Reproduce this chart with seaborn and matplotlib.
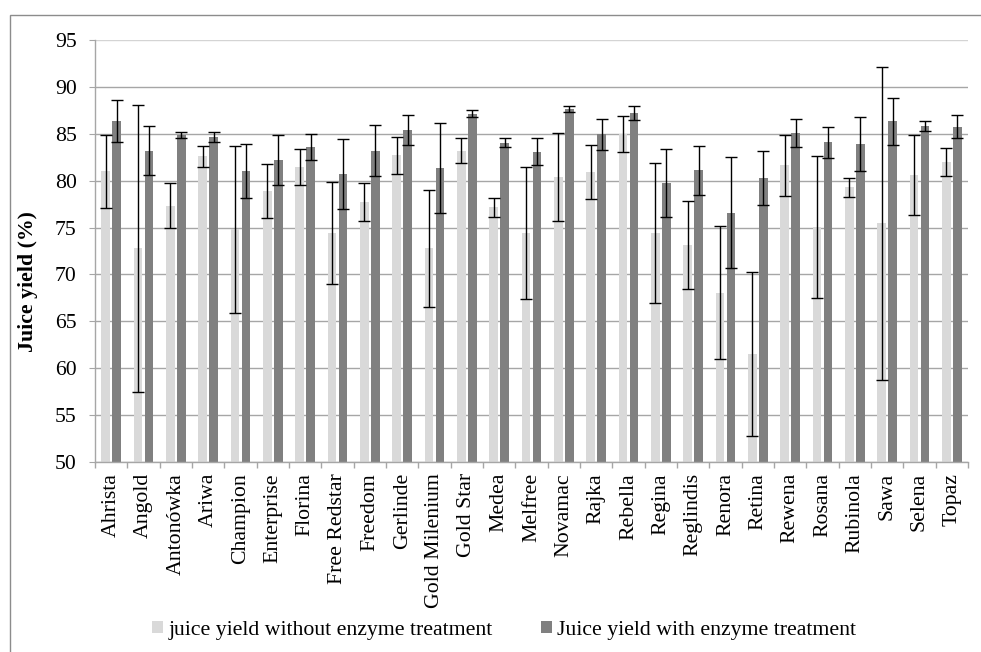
import numpy as np
import pandas as pd
import matplotlib
matplotlib.use("Agg")
import matplotlib.pyplot as plt
import seaborn as sns
from matplotlib.patches import Rectangle

cultivars = ["Ahrista", "Angold", "Antonówka", "Ariwa", "Champion", "Enterprise",
             "Florina", "Free Redstar", "Freedom", "Gerlinde", "Gold Milenium",
             "Gold Star", "Medea", "Melfree", "Novamac", "Rajka", "Rebella",
             "Regina", "Reglindis", "Renora", "Retina", "Rewena", "Rosana",
             "Rubinola", "Sawa", "Selena", "Topaz"]

without_enzyme = [81.0, 72.8, 77.3, 82.6, 74.8, 78.9, 81.45, 74.4, 77.7, 82.7,
                  72.8, 83.2, 77.15, 74.4, 80.35, 80.9, 84.95, 74.4, 73.15, 68.05,
                  61.55, 81.65, 75.05, 79.3, 75.45, 80.6, 82.0]
without_err = [3.9, 15.3, 2.4, 1.15, 8.9, 2.9, 1.9, 5.45, 2.0, 1.95,
               6.25, 1.3, 1.0, 7.05, 4.7, 2.9, 1.9, 7.45, 4.7, 7.1,
               8.75, 3.25, 7.55, 1.0, 16.7, 4.3, 1.5]

with_enzyme = [86.35, 83.2, 84.9, 84.65, 81.0, 82.2, 83.6, 80.7, 83.2, 85.4,
               81.35, 87.15, 84.05, 83.1, 87.65, 84.95, 87.25, 79.75, 81.1, 76.6,
               80.3, 85.05, 84.1, 83.9, 86.35, 85.85, 85.75]
with_err = [2.2, 2.6, 0.3, 0.5, 2.9, 2.7, 1.35, 3.7, 2.7, 1.6,
            4.85, 0.4, 0.5, 1.45, 0.3, 1.65, 0.75, 3.65, 2.65, 5.95,
            2.85, 1.5, 1.65, 2.85, 2.5, 0.55, 1.25]

series = ["juice yield without enzyme treatment", "Juice yield with enzyme treatment"]
y_ticks = [50, 55, 60, 65, 70, 75, 80, 85, 90, 95]

FONT = ["Liberation Serif", "DejaVu Serif"]
FS = 15.7
GRID = "#a6a6a6"

plt.rcParams["font.family"] = FONT

df = pd.DataFrame({
    "cultivar": cultivars * 2,
    "value": without_enzyme + with_enzyme,
    "series": [series[0]] * len(cultivars) + [series[1]] * len(cultivars),
})
errors = [without_err, with_err]

fig = plt.figure(figsize=(9.81, 6.52), dpi=100)
ax = fig.add_axes([95 / 981, 1 - 462 / 652, 873 / 981, 422 / 652])

sns.barplot(data=df, x="cultivar", y="value", hue="series",
            palette=["#d9d9d9", "#808080"], saturation=1,
            width=0.68, gap=0.2, errorbar=None, ax=ax, zorder=2)

# error bars on top of each bar
for container, err in zip(ax.containers, errors):
    xs = [p.get_x() + p.get_width() / 2 for p in container.patches]
    hs = [p.get_height() for p in container.patches]
    ax.errorbar(xs, hs, yerr=err, fmt="none", ecolor="black",
                elinewidth=1.0, capsize=4.2, capthick=1.0, zorder=3)

ax.set_ylim(50, 95)
ax.set_xlim(-0.5, len(cultivars) - 0.5)
ax.set_yticks(y_ticks)
ax.set_yticklabels([str(t) for t in y_ticks], fontsize=FS)
ax.set_xticks(range(len(cultivars)))
ax.set_xticklabels(cultivars, rotation=90, fontsize=FS)
ax.set_xticks(np.arange(-0.5, len(cultivars), 1), minor=True)
ax.set_xlabel("")
ax.set_ylabel("")

ax.grid(axis="y", color=GRID, linewidth=1.0, zorder=0)
ax.set_axisbelow(True)
ax.get_ygridlines()[-1].set_color("#d4d4d4")

for s in ["top", "right"]:
    ax.spines[s].set_visible(False)
for s in ["left", "bottom"]:
    ax.spines[s].set_color(GRID)
    ax.spines[s].set_linewidth(1.0)

ax.tick_params(axis="y", length=4.3, color=GRID, pad=9, labelcolor="black")
ax.tick_params(axis="x", which="major", length=0, pad=8)
ax.tick_params(axis="x", which="minor", length=4.3, color=GRID, width=1.0)

fig.text(28 / 981, 1 - 282 / 652, "Juice yield (%)", rotation=90,
         ha="center", va="center", fontsize=FS, fontweight="bold")

handles, labels = ax.get_legend_handles_labels()
ax.get_legend().remove()
fig.legend(handles, labels, ncol=2, loc="center",
           bbox_to_anchor=(504 / 981, 1 - 630 / 652), frameon=False,
           fontsize=FS, handlelength=0.5, handleheight=0.5,
           handletextpad=0.25, columnspacing=2.2)

# thin frame around the chart area
fig.patches.append(Rectangle((10 / 981, -0.1), 1.2, 1.1 - 15 / 652,
                             transform=fig.transFigure, fill=False,
                             edgecolor="#8c8c8c", linewidth=1.0))

fig.savefig("out.png", dpi=100)
plt.close(fig)
